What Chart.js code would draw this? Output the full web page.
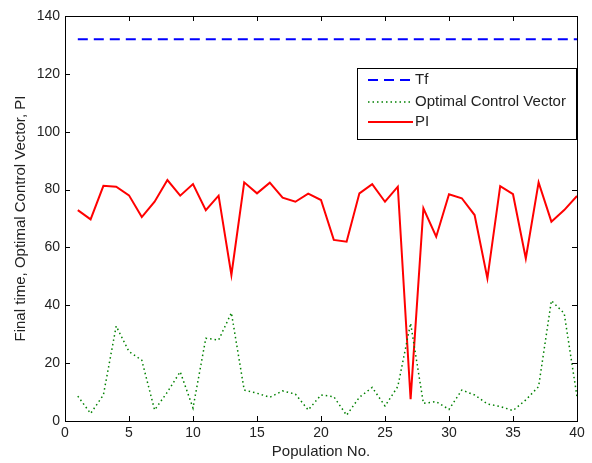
<!DOCTYPE html>
<html><head><meta charset="utf-8">
<script src="https://cdn.jsdelivr.net/npm/chart.js@4/dist/chart.umd.min.js"></script>
<style>html,body{margin:0;padding:0;background:#fff}#wrap{width:592px;height:463px}</style>
</head><body><div id="wrap"><canvas id="c" width="592" height="463"></canvas></div>
<script>
const populationNo = [1,2,3,4,5,6,7,8,9,10,11,12,13,14,15,16,17,18,19,20,21,22,23,24,25,26,27,28,29,30,31,32,33,34,35,36,37,38,39,40];
const tfValues = populationNo.map(() => 132);
const controlVector = [8.6,2.6,9,32.8,24,21,3.8,10,17,4.5,28.6,28,37.4,10.7,9.6,8.2,10.4,9.3,3.8,9,8.4,2,8.2,11.6,5.2,11.9,33.8,6.1,6.7,4,10.7,9,5.9,5,3.6,7.3,11.9,41.6,37.2,8.4];
const piValues = [72.9,69.7,81.3,81,78,70.5,75.8,83.3,77.9,81.9,72.9,77.9,50.5,82.5,78.7,82.4,77.2,75.8,78.6,76.4,62.6,62,78.7,81.9,75.8,81,7.5,73.5,63.7,78.4,77,71.2,49.3,81.2,78.4,56.2,82.5,68.9,72.9,77.8];
const xTicks = [0,5,10,15,20,25,30,35,40];
const yTicks = [0,20,40,60,80,100,120,140];
const seriesNames = ['Tf','Optimal Control Vector','PI'];

const FONT = 'Arial, "Liberation Sans", sans-serif';
const FS = 14, FT = 15;
const boxPlugin = {
  id:'box',
  afterDraw(chart){
    const ctx = chart.ctx, a = chart.chartArea, xs = chart.scales.x, ys = chart.scales.y;
    ctx.save();
    ctx.strokeStyle = '#000'; ctx.lineWidth = 1;
    ctx.strokeRect(Math.round(a.left)+0.5, Math.round(a.top)+0.5, Math.round(a.right-a.left), Math.round(a.bottom-a.top));
    ctx.beginPath();
    xTicks.forEach(v=>{ const px = Math.round(xs.getPixelForValue(v))+0.5;
      ctx.moveTo(px,a.bottom); ctx.lineTo(px,a.bottom-5);
      ctx.moveTo(px,a.top); ctx.lineTo(px,a.top+5); });
    yTicks.forEach(v=>{ const py = Math.round(ys.getPixelForValue(v))+0.5;
      ctx.moveTo(a.left,py); ctx.lineTo(a.left+5,py);
      ctx.moveTo(a.right,py); ctx.lineTo(a.right-5,py); });
    ctx.stroke();
    // legend
    const lx=357, ly=68, lw=219, lh=71;
    ctx.fillStyle='#fff'; ctx.fillRect(lx,ly,lw,lh);
    ctx.strokeRect(lx+0.5,ly+0.5,lw,lh);
    const ds = chart.data.datasets;
    const rows=[80,102,122];
    ds.forEach((d,i)=>{
      ctx.beginPath(); ctx.strokeStyle=d.borderColor; ctx.lineWidth=d.borderWidth;
      ctx.setLineDash(d.borderDash||[]);
      ctx.moveTo(368,rows[i]); ctx.lineTo(413,rows[i]); ctx.stroke();
      ctx.setLineDash([]);
      ctx.fillStyle='#222'; ctx.font=FT+'px '+FONT; ctx.textBaseline='middle'; ctx.textAlign='left';
      ctx.fillText(seriesNames[i],415,rows[i]);
    });
    ctx.restore();
  }
};

new Chart(document.getElementById('c'),{
  type:'line',
  data:{
    labels: populationNo,
    datasets:[
      {label:seriesNames[0], data: populationNo.map((x,i)=>({x, y: tfValues[i]})), borderColor:'#0000ff', borderWidth:2, borderDash:[10,6], pointRadius:0, fill:false},
      {label:seriesNames[1], data: populationNo.map((x,i)=>({x, y: controlVector[i]})), borderColor:'#008000', borderWidth:1.5, borderDash:[1.5,3], pointRadius:0, fill:false},
      {label:seriesNames[2], data: populationNo.map((x,i)=>({x, y: piValues[i]})), borderColor:'#ff0000', borderWidth:2, pointRadius:0, fill:false}
    ]
  },
  options:{
    responsive:false, animation:false, devicePixelRatio:1,
    layout:{padding:{top:16,right:15,left:0,bottom:0}},
    plugins:{legend:{display:false}, tooltip:{enabled:false}},
    scales:{
      x:{type:'linear', min:0, max:40,
        afterBuildTicks(s){ s.ticks = xTicks.map(v=>({value:v})); },
        afterFit(s){ s.height = 42; },
        grid:{display:false, drawTicks:false},
        border:{display:true,color:'#000'},
        ticks:{color:'#222', font:{size:FS,family:FONT}, padding:4, maxRotation:0},
        title:{display:true, text:'Population No.', color:'#222', font:{size:FT,family:FONT}, padding:{top:0,bottom:2}}
      },
      y:{min:0, max:140,
        afterBuildTicks(s){ s.ticks = yTicks.map(v=>({value:v})); },
        afterFit(s){ s.width = 65; },
        grid:{display:false, drawTicks:false},
        border:{display:true,color:'#000'},
        ticks:{color:'#222', font:{size:FS,family:FONT}, padding:5},
        title:{display:true, text:'Final time, Optimal Control Vector, PI', color:'#222', font:{size:FT,family:FONT}, padding:{top:12,bottom:0}}
      }
    }
  },
  plugins:[boxPlugin]
});
</script></body></html>
